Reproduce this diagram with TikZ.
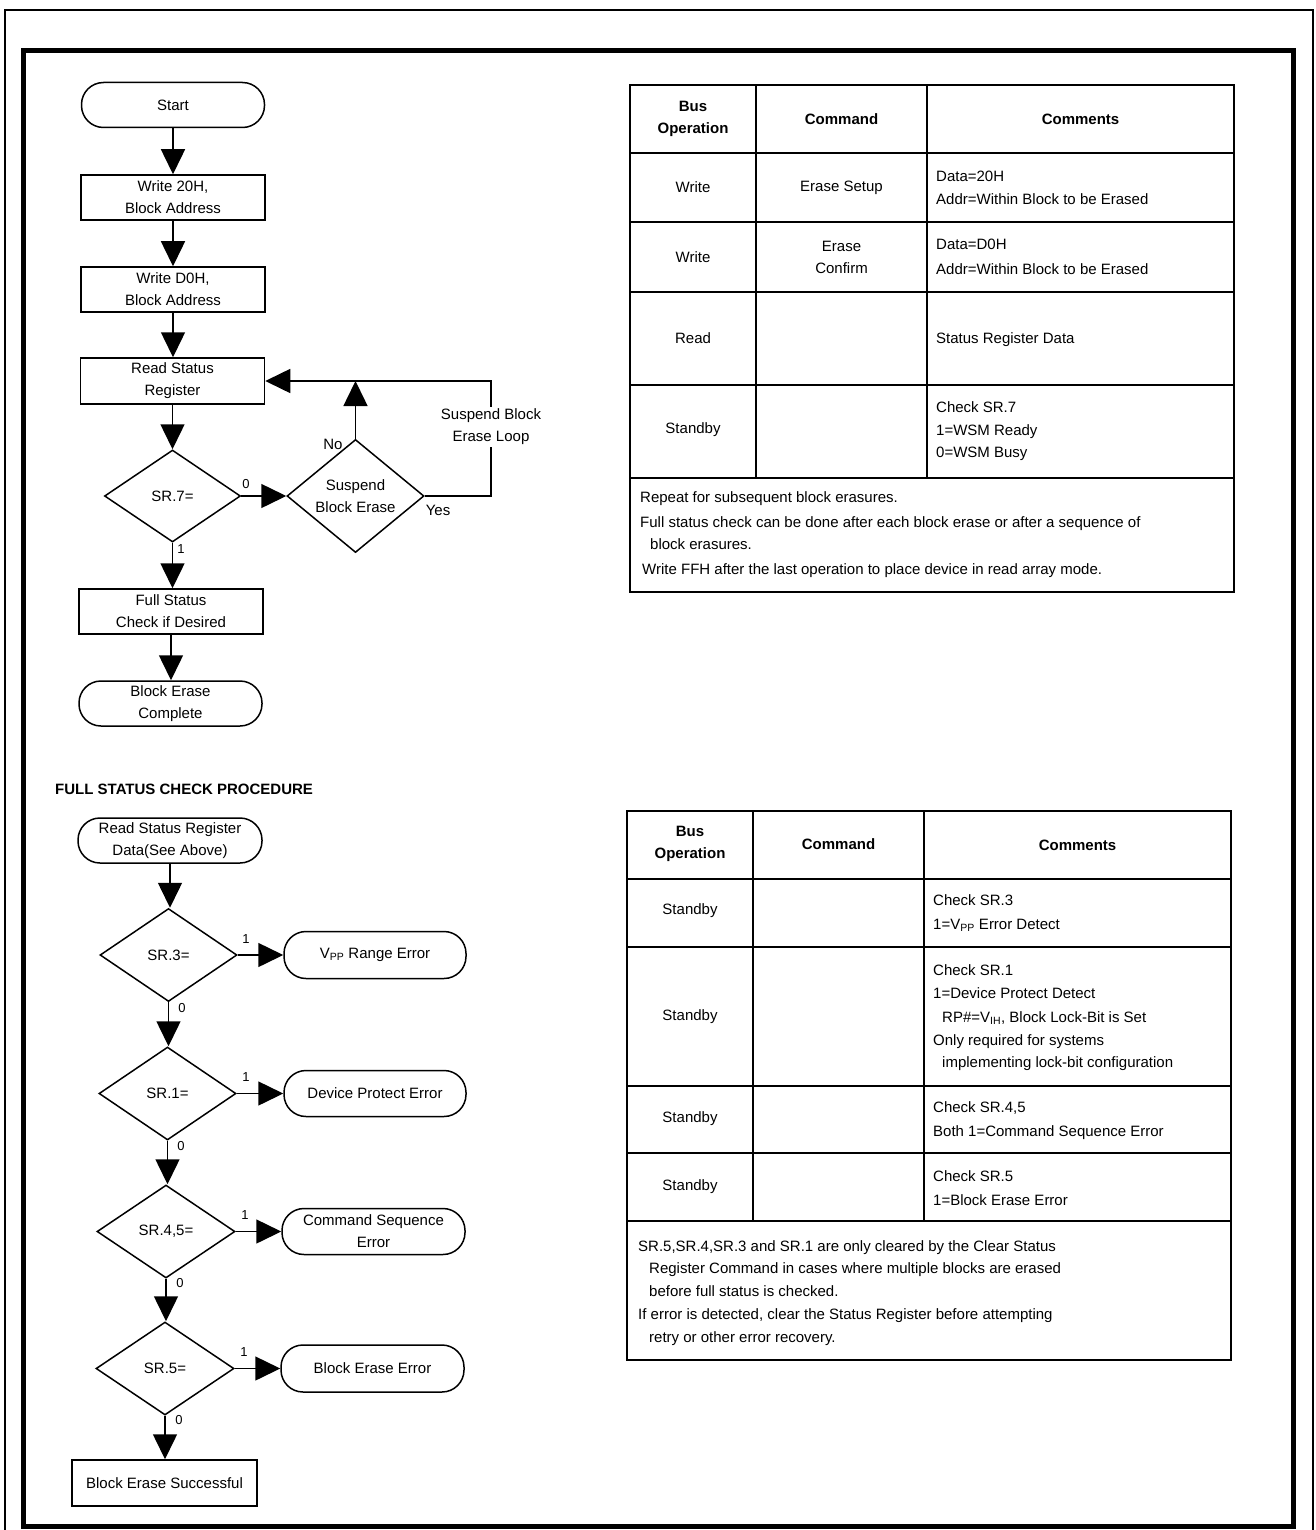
\documentclass[tikz,border=0pt]{standalone}
\usepackage{fontspec}
\setmainfont{Liberation Sans}
\usetikzlibrary{shapes.geometric,arrows.meta}
\begin{document}
\begin{tikzpicture}[x=1pt,y=-1pt,
  font=\fontsize{15}{22}\selectfont,
  fbox/.style={draw, rectangle, line width=1.5pt, minimum width=184pt, minimum height=45pt, inner sep=0pt, align=center},
  term/.style={draw, rectangle, rounded corners=22pt, line width=1.5pt, minimum width=183pt, minimum height=45pt, inner sep=0pt, align=center},
  dec/.style={draw, diamond, line width=1.5pt, minimum width=136pt, minimum height=92pt, inner sep=0pt, align=center},
  flow/.style={-{Triangle[length=25pt,width=24pt]}, line width=1.5pt},
  lbl/.style={font=\fontsize{13}{15}\selectfont, inner sep=0pt},
  cell/.style={align=center, inner sep=0pt},
  hcell/.style={align=center, inner sep=0pt, font=\fontsize{15}{22}\selectfont\bfseries},
  txt/.style={anchor=base west, inner sep=0pt},
  gridln/.style={line width=1.8pt}
]
\useasboundingbox (0,0) rectangle (1315,1530);
\fill[white] (0,0) rectangle (1315,1530);
% frames
\draw[line width=1.2pt] (5,1530) -- (5,10) -- (1313,10) -- (1313,1530);
\draw[line width=5pt] (23,51) rectangle (1293,1526);

% ---------- top flowchart ----------
\node[term] (start) at (173,105) {Start};
\node[fbox] (w20) at (173,197.5) {Write 20H,\\Block Address};
\node[fbox] (wd0) at (173,289.5) {Write D0H,\\Block Address};
\node[fbox, minimum height=46pt] (rsr) at (172.5,381) {Read Status\\Register};
\node[dec] (sr7) at (172.5,496) {SR.7=};
\node[dec, minimum width=137pt] (sus) at (355.5,496) {Suspend\\Block Erase};
\node[fbox] (fsc) at (171,611.5) {Full Status\\Check if Desired};
\node[term] (bec) at (170.5,703.5) {Block Erase\\Complete};
\coordinate (loopr) at (491,381);

\draw[flow] (start.south) -- (start.south |- w20.north);
\draw[flow] (w20.south) -- (w20.south |- wd0.north);
\draw[flow] (wd0.south) -- (wd0.south |- rsr.north);
\draw[flow] (rsr.south) -- (rsr.south |- sr7.north);
\draw[flow] (sr7.east) -- (sus.west);
\draw[flow] (sus.north) -- (sus.north |- rsr.east);
\draw[flow] (sus.east) -| (loopr) -- (rsr.east);
\draw[flow] (sr7.south) -- (sr7.south |- fsc.north);
\draw[flow] (fsc.south) -- (fsc.south |- bec.north);

\node[lbl] (l0) at (246,484) {0};
\node[lbl] (l1) at (181,549) {1};
\node[inner sep=0pt] (lno) at (333,444) {No};
\node[inner sep=0pt] (lyes) at (438,510) {Yes};
\node[cell, fill=white, inner sep=2pt] (lloop) at (491,427) {Suspend Block\\Erase Loop};

% ---------- bottom flowchart ----------
\node[txt, font=\fontsize{15}{22}\selectfont\bfseries] (title) at (55,794) {FULL STATUS CHECK PROCEDURE};
\node[term, minimum width=184pt] (rsd) at (170,840.5) {Read Status Register\\Data(See Above)};
\node[dec, minimum width=137pt, minimum height=93pt] (sr3) at (168.5,955) {SR.3=};
\node[term, minimum width=182pt, minimum height=47pt] (vpp) at (375,955) {V\textsubscript{PP} Range Error};
\node[dec, minimum width=137pt, minimum height=93pt] (sr1) at (167.5,1093.5) {SR.1=};
\node[term, minimum width=182pt, minimum height=46pt] (dpe) at (375,1093.5) {Device Protect Error};
\node[dec, minimum width=138pt, minimum height=93pt] (sr45) at (166,1231.5) {SR.4,5=};
\node[term, minimum width=183pt, minimum height=46pt] (cse) at (373.5,1231.5) {Command Sequence\\Error};
\node[dec, minimum width=138pt, minimum height=93pt] (sr5) at (165,1368.5) {SR.5=};
\node[term, minimum width=183pt, minimum height=47pt] (bee) at (372.5,1368.5) {Block Erase Error};
\node[fbox, minimum width=185pt, minimum height=46pt] (bes) at (164.5,1483) {Block Erase Successful};

\draw[flow] (rsd.south) -- (rsd.south |- sr3.north);
\draw[flow] (sr3.east) -- (vpp.west);
\draw[flow] (sr3.south) -- (sr3.south |- sr1.north);
\draw[flow] (sr1.east) -- (dpe.west);
\draw[flow] (sr1.south) -- (sr1.south |- sr45.north);
\draw[flow] (sr45.east) -- (cse.west);
\draw[flow] (sr45.south) -- (sr45.south |- sr5.north);
\draw[flow] (sr5.east) -- (bee.west);
\draw[flow] (sr5.south) -- (sr5.south |- bes.north);

\node[lbl] (b1a) at (246,939) {1};
\node[lbl] (b0a) at (182,1008) {0};
\node[lbl] (b1b) at (246,1077) {1};
\node[lbl] (b0b) at (181,1146) {0};
\node[lbl] (b1c) at (245,1215) {1};
\node[lbl] (b0c) at (180,1283) {0};
\node[lbl] (b1d) at (244,1352) {1};
\node[lbl] (b0d) at (179,1420) {0};

% ---------- top table ----------
\draw[gridln] (630,85) rectangle (1234,592);
\foreach \yy in {153,222,292,385,478} \draw[gridln] (630,\yy) -- (1234,\yy);
\foreach \xx in {756,927} \draw[gridln] (\xx,85) -- (\xx,478);
\node[hcell] (th1) at (693,119) {Bus\\Operation};
\node[hcell] (th2) at (841.5,119) {Command};
\node[hcell] (th3) at (1080.5,119) {Comments};
\node[cell] (ta1) at (693,187.5) {Write};
\node[cell] (ta2) at (841.5,187.5) {Erase Setup};
\node[txt] (ta3) at (936,182) {Data=20H};
\node[txt] (ta4) at (936,205) {Addr=Within Block to be Erased};
\node[cell] (tb1) at (693,257) {Write};
\node[cell] (tb2) at (841.5,257) {Erase\\Confirm};
\node[txt] (tb3) at (936,250) {Data=D0H};
\node[txt] (tb4) at (936,274) {Addr=Within Block to be Erased};
\node[cell] (tc1) at (693,338.5) {Read};
\node[txt] (tc3) at (936,343) {Status Register Data};
\node[cell] (td1) at (693,430) {Standby};
\node[txt] (td3) at (936,412) {Check SR.7};
\node[txt] (td4) at (936,435) {1=WSM Ready};
\node[txt] (td5) at (936,457) {0=WSM Busy};
\node[txt] (tn1) at (640,502) {Repeat for subsequent block erasures.};
\node[txt] (tn2) at (640,527) {Full status check can be done after each block erase or after a sequence of};
\node[txt] (tn3) at (650,549) {block erasures.};
\node[txt] (tn4) at (642,574) {Write FFH after the last operation to place device in read array mode.};

% ---------- bottom table ----------
\draw[gridln] (627,811) rectangle (1231,1360);
\foreach \yy in {879,947,1086,1153,1221} \draw[gridln] (627,\yy) -- (1231,\yy);
\foreach \xx in {753,924} \draw[gridln] (\xx,811) -- (\xx,1221);
\node[hcell] (bh1) at (690,844) {Bus\\Operation};
\node[hcell] (bh2) at (838.5,844) {Command};
\node[hcell] (bh3) at (1077.5,845) {Comments};
\node[cell] (ba1) at (690,911) {Standby};
\node[txt] (ba3) at (933,905) {Check SR.3};
\node[txt] (ba4) at (933,929) {1=V\textsubscript{PP} Error Detect};
\node[cell] (bb1) at (690,1016.5) {Standby};
\node[txt] (bb3) at (933,975) {Check SR.1};
\node[txt] (bb4) at (933,998) {1=Device Protect Detect};
\node[txt] (bb5) at (942,1022) {RP\#=V\textsubscript{IH}, Block Lock-Bit is Set};
\node[txt] (bb6) at (933,1045) {Only required for systems};
\node[txt] (bb7) at (942,1067) {implementing lock-bit configuration};
\node[cell] (bc1) at (690,1119) {Standby};
\node[txt] (bc3) at (933,1112) {Check SR.4,5};
\node[txt] (bc4) at (933,1136) {Both 1=Command Sequence Error};
\node[cell] (bd1) at (690,1187) {Standby};
\node[txt] (bd3) at (933,1181) {Check SR.5};
\node[txt] (bd4) at (933,1205) {1=Block Erase Error};
\node[txt] (bn1) at (638,1251) {SR.5,SR.4,SR.3 and SR.1 are only cleared by the Clear Status};
\node[txt] (bn2) at (649,1273) {Register Command in cases where multiple blocks are erased};
\node[txt] (bn3) at (649,1296) {before full status is checked.};
\node[txt] (bn4) at (638,1319) {If error is detected, clear the Status Register before attempting};
\node[txt] (bn5) at (649,1342) {retry or other error recovery.};
\end{tikzpicture}
\end{document}
